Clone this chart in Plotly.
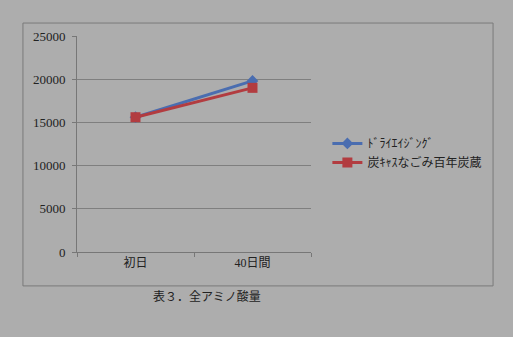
import plotly.graph_objects as go

categories = ["初日", "40日間"]
series_names = ["ﾄﾞﾗｲｴｲｼﾞﾝｸﾞ", "炭ｷｬｽなごみ百年炭蔵"]
dry_aging = [15600, 19800]
sumi_cask = [15600, 19000]
y_ticks = [0, 5000, 10000, 15000, 20000, 25000]
y_tick_labels = ["0", "5000", "10000", "15000", "20000", "25000"]
caption = "表３．全アミノ酸量"

serif = "Liberation Serif, Noto Sans CJK JP"
bg = "#adadad"

fig = go.Figure()
fig.add_trace(go.Scatter(x=categories, y=dry_aging, name=series_names[0], mode="lines+markers",
                         line=dict(color="#4a6db0", width=3),
                         marker=dict(symbol="diamond", size=9, color="#4a6db0")))
fig.add_trace(go.Scatter(x=categories, y=sumi_cask, name=series_names[1], mode="lines+markers",
                         line=dict(color="#b23c40", width=3),
                         marker=dict(symbol="square", size=10, color="#b23c40")))

fig.update_layout(
    width=513, height=337,
    margin=dict(l=77, r=202, t=36, b=85),
    paper_bgcolor=bg, plot_bgcolor=bg,
    font=dict(family=serif, size=12, color="#222222"),
    showlegend=True,
    legend=dict(x=1.07, y=0.57, xanchor="left", yanchor="top", bgcolor="rgba(0,0,0,0)",
                font=dict(family="Noto Sans CJK JP", size=12, color="#222222"),
                itemwidth=30, tracegroupgap=2),
    xaxis=dict(type="category", range=[-0.5, 1.5], showline=True, linecolor="#777777", linewidth=1,
               ticks="outside", tickson="boundaries", ticklen=4, tickcolor="#777777",
               showgrid=False, tickfont=dict(family=serif, size=12)),
    yaxis=dict(range=[0, 25000], tickvals=y_ticks, ticktext=y_tick_labels, showline=True,
               linecolor="#777777", linewidth=1,
               ticks="outside", ticklen=4, tickcolor="#777777", gridcolor="#7f7f7f", gridwidth=1,
               zeroline=False, ticklabelstandoff=4, tickfont=dict(family=serif, size=13)),
    shapes=[dict(type="rect", xref="paper", yref="paper", x0=-0.231, x1=1.778, y0=-0.157, y1=1.06,
                 line=dict(color="#7a7a7a", width=1), layer="below")],
    annotations=[dict(text=caption, xref="paper", yref="paper", x=0.556, y=-0.208,
                      xanchor="center", yanchor="middle", showarrow=False,
                      font=dict(family=serif, size=12, color="#222222"))],
)

fig.write_html("out.html")
